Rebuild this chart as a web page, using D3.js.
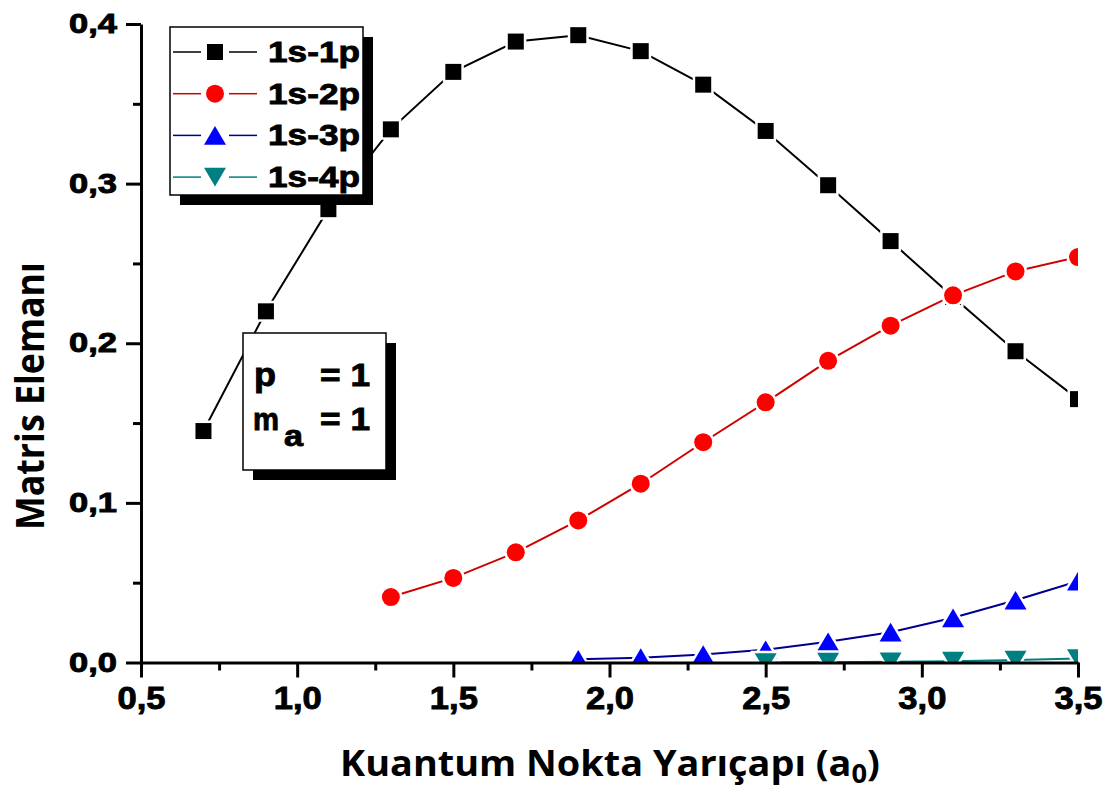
<!DOCTYPE html>
<html>
<head>
<meta charset="utf-8">
<script src="https://cdn.jsdelivr.net/npm/d3@7"></script>
<style>
  body { margin: 0; background: #fff; }
  svg { display: block; }
  .tick text { font-family: "Liberation Sans", Arial, sans-serif; font-weight: bold; fill: #000; stroke: #000; stroke-width: 0.9px; }
</style>
</head>
<body>
<svg id="chart" width="1117" height="793"></svg>
<script>
// quantum dot radius (a0)
const radius = [0.7, 0.9, 1.1, 1.3, 1.5, 1.7, 1.9, 2.1, 2.3, 2.5, 2.7, 2.9, 3.1, 3.3, 3.5]
const s1p = [0.145, 0.220, 0.284, 0.334, 0.370, 0.389, 0.393, 0.383, 0.362, 0.333, 0.299, 0.264, 0.229, 0.195, 0.165]
const s2p = [0.041, 0.053, 0.069, 0.089, 0.112, 0.138, 0.163, 0.189, 0.211, 0.230, 0.245, 0.254]
const s3p = [0.002, 0.003, 0.005, 0.008, 0.013, 0.019, 0.028, 0.039, 0.051]
const s4p = [0.0, 0.0002, 0.0004, 0.0008, 0.0015, 0.0025]
const seriesNames = ['1s-1p', '1s-2p', '1s-3p', '1s-4p']
const xTicks = [0.5, 1.0, 1.5, 2.0, 2.5, 3.0, 3.5]
const xMinor = [0.75, 1.25, 1.75, 2.25, 2.75, 3.25]
const yTicks = [0.0, 0.1, 0.2, 0.3, 0.4]
const yMinor = [0.05, 0.15, 0.25, 0.35]

// bbox-centred triangles, size = width^2
const triUp = {
  draw(ctx, size) {
    const w = Math.sqrt(size), h = w * 0.85
    ctx.moveTo(0, -h / 2); ctx.lineTo(w / 2, h / 2); ctx.lineTo(-w / 2, h / 2); ctx.closePath()
  }
}
const triDown = {
  draw(ctx, size) {
    const w = Math.sqrt(size), h = w * 0.85
    ctx.moveTo(0, h / 2); ctx.lineTo(w / 2, -h / 2); ctx.lineTo(-w / 2, -h / 2); ctx.closePath()
  }
}

const series = [
  { name: seriesNames[0], xs: radius, ys: s1p, line: '#000', fill: '#000', type: d3.symbolSquare, size: 256 },
  { name: seriesNames[1], xs: radius.slice(3), ys: s2p, line: '#d00000', fill: '#ff0000', type: d3.symbolCircle, size: 254 },
  { name: seriesNames[2], xs: radius.slice(6), ys: s3p, line: '#000090', fill: '#0000ff', type: triUp, size: 484 },
  { name: seriesNames[3], xs: radius.slice(9), ys: s4p, line: '#008080', fill: '#008080', type: triDown, size: 484 }
]

const svg = d3.select('#chart')
const x = d3.scaleLinear().domain([0.5, 3.5]).range([141, 1078])
const y = d3.scaleLinear().domain([0, 0.4]).range([662.5, 24])
const fmt = v => d3.format('.1f')(v).replace('.', ',')

svg.append('clipPath').attr('id', 'plot')
  .append('rect').attr('x', 141).attr('y', 0).attr('width', 1078 - 141).attr('height', 662.5)

const plot = svg.append('g').attr('clip-path', 'url(#plot)')

series.forEach(s => {
  const pts = s.xs.map((v, i) => [v, s.ys[i]])
  plot.append('path')
    .attr('d', d3.line().x(d => x(d[0])).y(d => y(d[1]))(pts))
    .attr('fill', 'none').attr('stroke', s.line).attr('stroke-width', 2)
})
series.forEach(s => {
  const pts = s.xs.map((v, i) => [v, s.ys[i]])
  plot.selectAll(null).data(pts).enter().append('path')
    .attr('transform', d => `translate(${x(d[0])},${y(d[1])})`)
    .attr('d', d3.symbol().type(s.type).size(s.size))
    .attr('fill', s.fill)
    .attr('stroke', '#fff').attr('stroke-width', 5)
    .style('paint-order', 'stroke')
})

// axes
const gx = svg.append('g').attr('transform', 'translate(0,662.5)')
gx.call(d3.axisBottom(x).tickValues(xMinor).tickSize(8).tickFormat(''))
gx.select('.domain').remove()
const gxMajor = svg.append('g').attr('transform', 'translate(0,662.5)')
  .call(d3.axisBottom(x).tickValues(xTicks).tickSize(15).tickSizeOuter(0).tickPadding(9).tickFormat(fmt))
gxMajor.selectAll('text').attr('font-size', 32)
  .attr('textLength', 48).attr('lengthAdjust', 'spacingAndGlyphs')

const gy = svg.append('g').attr('transform', 'translate(141,0)')
gy.call(d3.axisLeft(y).tickValues(yMinor).tickSize(8).tickFormat(''))
gy.select('.domain').remove()
const gyMajor = svg.append('g').attr('transform', 'translate(141,0)')
  .call(d3.axisLeft(y).tickValues(yTicks).tickSize(15).tickSizeOuter(0).tickPadding(9).tickFormat(fmt))
gyMajor.selectAll('text').attr('font-size', 27)
  .attr('textLength', 48).attr('lengthAdjust', 'spacingAndGlyphs')

svg.selectAll('.domain').attr('stroke', '#000').attr('stroke-width', 3)
svg.selectAll('.tick line').attr('stroke', '#000').attr('stroke-width', 3)

// axis titles
const xt = svg.append('text')
  .attr('font-family', '"Open Sans", sans-serif').attr('font-weight', 'bold').attr('font-size', 36)
xt.append('tspan').text('Kuantum Nokta Yarıçapı (a')
xt.append('tspan').text('0').attr('font-size', 26).attr('dy', 7)
xt.append('tspan').text(')').attr('dy', -7)
const xw = xt.node().getBBox().width
xt.attr('transform', `translate(340,776) scale(${540 / xw},1)`)

const yt = svg.append('text')
  .attr('font-family', '"Open Sans", sans-serif').attr('font-weight', 'bold').attr('font-size', 40)
  .attr('text-anchor', 'middle').text('Matris Elemanı')
const yw = yt.node().getBBox().width
yt.attr('transform', `translate(44,396) rotate(-90) scale(${268 / yw},1)`)

// legend
const leg = svg.append('g')
leg.append('rect').attr('x', 180).attr('y', 37).attr('width', 193).attr('height', 168).attr('fill', '#000')
leg.append('rect').attr('x', 170).attr('y', 27).attr('width', 193).attr('height', 168)
  .attr('fill', '#fff').attr('stroke', '#000').attr('stroke-width', 1.5)
series.forEach((s, i) => {
  const cy = 52 + i * 41.7
  leg.append('line').attr('x1', 173).attr('x2', 201).attr('y1', cy).attr('y2', cy)
    .attr('stroke', s.line).attr('stroke-width', 1.5)
  leg.append('line').attr('x1', 229).attr('x2', 257).attr('y1', cy).attr('y2', cy)
    .attr('stroke', s.line).attr('stroke-width', 1.5)
  leg.append('path').attr('transform', `translate(215,${cy})`)
    .attr('d', d3.symbol().type(s.type).size(s.size)).attr('fill', s.fill)
  leg.append('text').attr('x', 268).attr('y', cy + 10)
    .attr('font-family', '"Liberation Sans", Arial, sans-serif').attr('font-weight', 'bold')
    .attr('font-size', 29).attr('textLength', 92).attr('lengthAdjust', 'spacingAndGlyphs')
    .attr('stroke', '#000').attr('stroke-width', 0.8)
    .text(s.name)
})

// parameter box
const pb = svg.append('g')
pb.append('rect').attr('x', 253).attr('y', 343).attr('width', 143).attr('height', 137).attr('fill', '#000')
pb.append('rect').attr('x', 243).attr('y', 333).attr('width', 143).attr('height', 137)
  .attr('fill', '#fff').attr('stroke', '#000').attr('stroke-width', 1.5)
const pt = (tx, ty, str, fs, len) => {
  const t = pb.append('text').attr('x', tx).attr('y', ty)
    .attr('font-family', '"Liberation Sans", Arial, sans-serif').attr('font-weight', 'bold')
    .attr('font-size', fs).attr('stroke', '#000').attr('stroke-width', 0.9).text(str)
  if (len) t.attr('textLength', len).attr('lengthAdjust', 'spacingAndGlyphs')
}
pt(254, 386, 'p', 34, 22)
pt(320, 386, '= 1', 32, 50)
pt(253, 430, 'm', 32, 26)
pt(284, 446, 'a', 30, 19)
pt(320, 430, '= 1', 32, 50)
</script>
</body>
</html>
